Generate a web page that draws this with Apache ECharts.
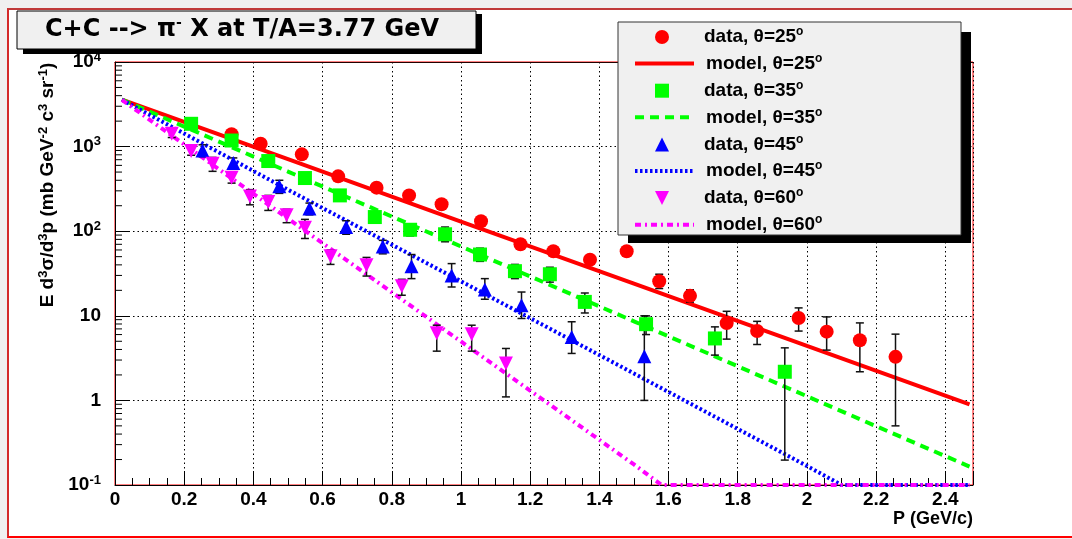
<!DOCTYPE html>
<html><head><meta charset="utf-8">
<script src="https://cdn.jsdelivr.net/npm/echarts@6/dist/echarts.min.js"></script>
<style>
html,body{margin:0;padding:0;background:#f0f0f0;overflow:hidden;}
#pad{position:absolute;left:7px;top:8px;width:1100px;height:526px;background:#fff;border-left:2px solid #d42a2a;border-top:2px solid #c03a3a;border-bottom:2px solid #ff0000;}
#chart{position:absolute;left:0;top:0;width:1072px;height:539px;}
</style></head><body>
<div id="pad"></div><div id="chart"></div>
<script>
// ---- data ----
const red25X  = [0.337,0.421,0.54,0.645,0.756,0.85,0.944,1.058,1.172,1.267,1.373,1.479,1.573,1.662,1.768,1.856,1.976,2.057,2.153,2.256];
const red25Y  = [1400,1080,810,445,327,265,208,131,70,58,46,58,25.6,17.2,8.2,6.6,9.4,6.5,5.15,3.27];
const red25Lo = [1310,1010,757,416,306,248,194,122,65,54,43,54,21,14.5,5.3,4.58,6.6,3.93,2.18,0.5];
const red25Hi = [1500,1155,866,476,350,283,222,140,75,62,49,62,31,20.3,11.3,8.6,12.4,9.7,8.24,6.07];

const green35X  = [0.22,0.337,0.443,0.549,0.65,0.751,0.853,0.954,1.055,1.156,1.257,1.358,1.535,1.734,1.936];
const green35Y  = [1860,1180,675,425,265,147,104,92,53,33.7,31,14.6,7.96,5.4,2.18];
const green35Lo = [1700,1070,610,380,235,128,88,75,44,27.5,25,10.8,6.0,3.43,0.197];
const green35Hi = [2030,1300,745,475,298,168,122,112,63,40.5,37.5,18.6,9.97,7.4,4.18];

const blue45X  = [0.253,0.342,0.475,0.562,0.668,0.774,0.857,0.973,1.069,1.175,1.32,1.53];
const blue45Y  = [900,638,339,185,112,66,38.5,30,20.4,13.3,5.6,3.33];
const blue45Lo = [760,545,280,156,92,54,27.5,21.9,15.7,9.3,3.59,1.0];
const blue45Hi = [1050,735,400,215,133,78,53,41.4,27.5,19.1,8.5,10];

const mag60X  = [0.164,0.22,0.282,0.337,0.39,0.443,0.496,0.549,0.623,0.727,0.829,0.93,1.031,1.13];
const mag60Y  = [1420,885,628,429,258,221,154,110,50.6,39.5,22.3,6.2,6.07,2.73];
const mag60Lo = [1280,790,510,370,205,176,126,82,40.5,29.5,17.5,3.82,3.82,1.1];
const mag60Hi = [1580,990,745,490,310,265,182,138,60,49,27,7.74,7.74,4.11];

const model25X = [0.02,0.5,1.0,1.5,2.0,2.47];
const model25Y = [3600,710,130,24,4.4,0.9];
const model35X = [0.02,0.5,1.0,1.5,2.0,2.47];
const model35Y = [3590,507,66,8.6,1.12,0.165];
const model45X = [0.02,0.5,1.0,1.5,2.0,2.1,2.47];
const model45Y = [3570,309,25.6,2.08,0.168,0.1,0.1];
const model60X = [0.02,0.5,1.0,1.5,1.58,2.47];
const model60Y = [3560,141,4.97,0.175,0.1,0.1];

const xTickLabels = ['0','0.2','0.4','0.6','0.8','1','1.2','1.4','1.6','1.8','2','2.2','2.4'];
const yTickValues = [0.1,1,10,100,1000,10000];
const yTickLabels = ['10^-1','1','10','10^2','10^3','10^4'];
const yMinorTicks = [];
[0.1,1,10,100,1000].forEach(d => { for (let k = 2; k <= 9; k++) yMinorTicks.push(+(k*d).toPrecision(3)); });

const dataNames  = ['data, θ=25°','data, θ=35°','data, θ=45°','data, θ=60°'];
const modelNames = ['model, θ=25°','model, θ=35°','model, θ=45°','model, θ=60°'];
// ---------------------------------------

const FONT = '"Liberation Sans", Arial, Helvetica, sans-serif';
const zip = (xs, ys) => xs.map((x, i) => [x, ys[i]]);

function errSeries(xs, lo, hi) {
  return {
    type: 'custom', silent: true, z: 3, clip: true,
    data: xs.map((x, i) => [x, lo[i], hi[i]]),
    encode: { x: 0, y: [1, 2] },
    renderItem: (params, api) => {
      const x = api.value(0), l = api.value(1), h = api.value(2);
      const a = api.coord([x, h]), b = api.coord([x, l]);
      const cw = 4;
      const style = { stroke: '#111', lineWidth: 1.5 };
      return { type: 'group', children: [
        { type: 'line', shape: { x1: a[0], y1: a[1], x2: b[0], y2: b[1] }, style },
        { type: 'line', shape: { x1: a[0]-cw, y1: a[1], x2: a[0]+cw, y2: a[1] }, style },
        { type: 'line', shape: { x1: b[0]-cw, y1: b[1], x2: b[0]+cw, y2: b[1] }, style }
      ]};
    }
  };
}

function scatterSeries(name, xs, ys, color, symbol, rotate) {
  return { type: 'scatter', name, data: zip(xs, ys), symbol, symbolSize: 14, symbolRotate: rotate || 0,
    itemStyle: { color, opacity: 1 }, z: 4, silent: true };
}
function modelSeries(name, xs, ys, color, type) {
  return { type: 'line', name, data: zip(xs, ys), symbol: 'none', z: 2, silent: true,
    lineStyle: { color, width: 4, type, cap: 'butt' }, itemStyle: { color } };
}

const chart = echarts.init(document.getElementById('chart'), null, { renderer: 'canvas' });

const supRich = (fs) => ({
  b: { fontSize: fs, fontWeight: 'bold', color: '#000', lineHeight: fs + 4, fontFamily: FONT },
  s: { fontSize: Math.round(fs * 0.66), fontWeight: 'bold', color: '#000', verticalAlign: 'top', lineHeight: 12, fontFamily: FONT }
});

const legendText = {
  rich: {
    t: { fontSize: 19, fontWeight: 'bold', color: '#000', lineHeight: 22, fontFamily: FONT },
    s: { fontSize: 12, fontWeight: 'bold', color: '#000', verticalAlign: 'top', lineHeight: 12, fontFamily: FONT }
  }
};
const legendFmt = n => '{t|' + n.replace('°', '') + '}{s|o}';
const downTriangle = 'path://M0,0L14,0L7,14Z';

const option = {
  animation: false,
  backgroundColor: 'transparent',
  textStyle: { fontFamily: FONT },
  title: {
    text: 'C+C --> π{s|-} X at T/A=3.77 GeV',
    left: 45, top: 16, padding: 0, z: 30,
    textStyle: { fontSize: 24, fontWeight: 'bold', color: '#000', fontFamily: '"DejaVu Sans", sans-serif', lineHeight: 28,
      rich: { s: { fontSize: 14, fontWeight: 'bold', color: '#000', verticalAlign: 'top', lineHeight: 14, fontFamily: '"DejaVu Sans", sans-serif' } } }
  },
  grid: { left: 115, top: 62, width: 858, height: 423, show: true, borderColor: '#ff0000', borderWidth: 1,
    backgroundColor: '#fff', outerBoundsMode: 'none', containLabel: false },
  legend: [{
    orient: 'vertical', left: 655, top: 26, padding: 0, itemWidth: 14, itemHeight: 14, itemGap: 33.2,
    selectedMode: false, z: 30, formatter: legendFmt, symbolKeepAspect: true,
    data: [dataNames[0], dataNames[1], dataNames[2], { name: dataNames[3], icon: downTriangle }],
    textStyle: Object.assign({ padding: [0, 0, 0, 30] }, legendText)
  }, {
    orient: 'vertical', left: 633, top: 52.6, padding: 0, itemWidth: 59, itemHeight: 14, itemGap: 33.2,
    selectedMode: false, z: 30, data: modelNames, formatter: legendFmt,
    lineStyle: { width: 4 },
    itemStyle: { color: 'rgba(0,0,0,0)', borderColor: 'rgba(0,0,0,0)', borderWidth: 0, opacity: 0 },
    textStyle: Object.assign({ padding: [0, 0, 0, 7] }, legendText)
  }],
  xAxis: [{
    type: 'value', min: 0, max: 2.48, interval: 0.2,
    name: 'P (GeV/c)', nameLocation: 'end', nameGap: 0,
    nameTextStyle: { align: 'right', verticalAlign: 'top', fontSize: 18, fontWeight: 'bold', color: '#000', padding: [25, 0, 0, 0], fontFamily: FONT },
    axisLine: { show: true, lineStyle: { color: '#000', width: 1 } },
    axisTick: { show: true, inside: true, length: 14, lineStyle: { color: '#000', width: 1 } },
    minorTick: { show: true, splitNumber: 4, length: 7, lineStyle: { color: '#000', width: 1 } },
    splitLine: { show: true, lineStyle: { color: '#000', width: 1, type: [1.5, 3] } },
    axisLabel: { margin: 5, fontSize: 19, fontWeight: 'bold', color: '#000', showMaxLabel: false, fontFamily: FONT,
      formatter: v => { const i = Math.round(v / 0.2); return (Math.abs(v - i*0.2) < 1e-6 && xTickLabels[i] !== undefined) ? xTickLabels[i] : ''; } }
  }, {
    type: 'value', min: 0, max: 2.48, position: 'top',
    axisLine: { show: true, lineStyle: { color: '#200', width: 1 } },
    axisTick: { show: false }, axisLabel: { show: false }, splitLine: { show: false }
  }],
  yAxis: [{
    type: 'log', logBase: 10, min: 0.1, max: 10000,
    axisLine: { show: true, lineStyle: { color: '#000', width: 1 } },
    axisTick: { show: true, inside: true, length: 14, lineStyle: { color: '#000', width: 1 } },
    splitLine: { show: true, lineStyle: { color: '#000', width: 1, type: [1.5, 3] } },
    axisLabel: { margin: 14, fontFamily: FONT, rich: supRich(19),
      formatter: v => {
        const i = yTickValues.findIndex(t => Math.abs(Math.log10(t) - Math.log10(v)) < 1e-6);
        if (i < 0) return '';
        const parts = yTickLabels[i].split('^');
        return parts.length > 1 ? '{b|' + parts[0] + '}{s|' + parts[1] + '}' : '{b|' + parts[0] + '}';
      } }
  }],
  graphic: { elements: [
    { type: 'rect', z: 19, shape: { x: 23, y: 14, width: 459, height: 40 }, style: { fill: '#000' } },
    { type: 'rect', z: 20, shape: { x: 17, y: 11, width: 459, height: 38 }, style: { fill: '#f0f0f0', stroke: '#000', lineWidth: 1 } },
    { type: 'rect', z: 19, shape: { x: 628, y: 32, width: 343, height: 211 }, style: { fill: '#000' } },
    { type: 'rect', z: 20, shape: { x: 618, y: 22, width: 343, height: 213 }, style: { fill: '#f0f0f0', stroke: '#333', lineWidth: 1 } },
    { type: 'text', z: 20, x: 48, y: 185, rotation: Math.PI / 2,
      style: { text: '{b|E d}{s|3}{b|σ/d}{s|3}{b|p (mb GeV}{s|-2}{b| c}{s|3}{b| sr}{s|-1}{b|)}',
        rich: supRich(19), align: 'center', verticalAlign: 'middle', fill: '#000' } }
  ] },
  series: [
    // minor ticks on the log axis
    { type: 'custom', silent: true, z: 5, clip: false, data: yMinorTicks.map(v => [0, v]), encode: { x: 0, y: 1 },
      renderItem: (params, api) => {
        const p = api.coord([0, api.value(1)]);
        return { type: 'line', shape: { x1: p[0], y1: p[1], x2: p[0] + 7, y2: p[1] }, style: { stroke: '#000', lineWidth: 1 } };
      } },
    modelSeries(modelNames[0], model25X, model25Y, '#ff0000', 'solid'),
    modelSeries(modelNames[1], model35X, model35Y, '#00ff00', [9, 6]),
    modelSeries(modelNames[2], model45X, model45Y, '#0000ff', [2.5, 2.5]),
    modelSeries(modelNames[3], model60X, model60Y, '#ff00ff', [6, 4, 2, 4]),
    errSeries(red25X, red25Lo, red25Hi),
    errSeries(green35X, green35Lo, green35Hi),
    errSeries(blue45X, blue45Lo, blue45Hi),
    errSeries(mag60X, mag60Lo, mag60Hi),
    scatterSeries(dataNames[0], red25X, red25Y, '#ff0000', 'circle'),
    scatterSeries(dataNames[1], green35X, green35Y, '#00ff00', 'rect'),
    scatterSeries(dataNames[2], blue45X, blue45Y, '#0000ff', 'triangle'),
    scatterSeries(dataNames[3], mag60X, mag60Y, '#ff00ff', 'triangle', 180)
  ]
};
chart.setOption(option);
</script></body></html>
